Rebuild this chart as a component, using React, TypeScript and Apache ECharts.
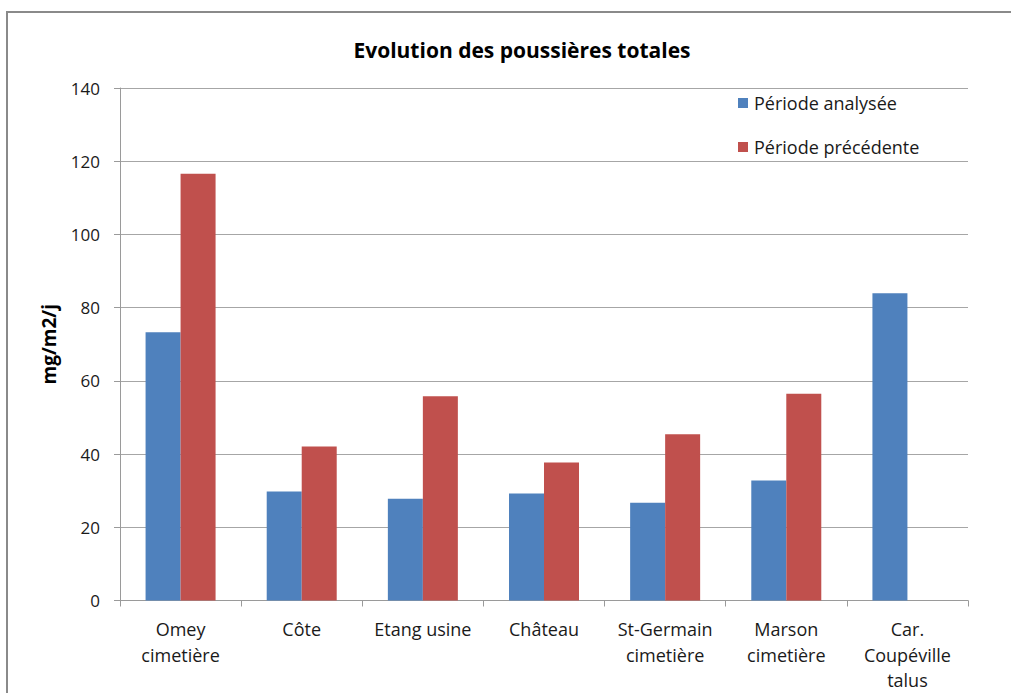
import React, { useEffect, useRef } from "react";
import * as echarts from "echarts";

const categories = [
  "Omey\ncimetière",
  "Côte",
  "Etang usine",
  "Château",
  "St-Germain\ncimetière",
  "Marson\ncimetière",
  "Car.\nCoupéville\ntalus",
];
const periodeAnalysee = [73.3, 29.8, 27.8, 29.2, 26.7, 32.8, 83.9];
const periodePrecedente: (number | null)[] = [116.6, 42.1, 55.8, 37.7, 45.4, 56.5, null];
const seriesNames = ["Période analysée", "Période précédente"];
const yTicks = { min: 0, max: 140, interval: 20 };

const FONT = "'Open Sans', 'Noto Sans', sans-serif";

export default function App() {
  const ref = useRef<HTMLDivElement>(null);
  useEffect(() => {
    if (!ref.current) return;
    const chart = echarts.init(ref.current, null, { renderer: "svg" });
    chart.setOption({
      animation: false,
      backgroundColor: "#ffffff",
      title: {
        text: "Evolution des poussières totales",
        left: 517,
        textAlign: "center",
        top: 34,
        textStyle: { fontFamily: FONT, fontSize: 21, fontWeight: "bold", color: "#000" },
      },
      graphic: [
        {
          type: "rect",
          shape: { x: 7, y: 12, width: 1020, height: 700 },
          style: { fill: "none", stroke: "#8a8a8a", lineWidth: 2 },
          silent: true,
        },
      ],
      legend: {
        orient: "vertical",
        left: 733,
        top: 89,
        itemWidth: 10,
        itemHeight: 10,
        itemGap: 26,
        icon: "rect",
        data: seriesNames,
        textStyle: { fontFamily: FONT, fontSize: 18, color: "#1a1a1a", padding: [0, 0, 0, 1] },
      },
      grid: { left: 120, right: 43, top: 88, bottom: 92 },
      xAxis: {
        type: "category",
        data: categories,
        axisLine: { show: true, lineStyle: { color: "#9a9a9a", width: 1 } },
        axisTick: { show: true, length: 6, lineStyle: { color: "#9a9a9a" } },
        axisLabel: {
          fontFamily: FONT,
          fontSize: 18,
          color: "#1a1a1a",
          lineHeight: 25.5,
          margin: 16,
          interval: 0,
        },
      },
      yAxis: {
        type: "value",
        min: yTicks.min,
        max: yTicks.max,
        interval: yTicks.interval,
        name: "mg/m2/j",
        nameLocation: "middle",
        nameGap: 62,
        nameTextStyle: { fontFamily: FONT, fontSize: 19, fontWeight: "bold", color: "#000" },
        axisLine: { show: true, lineStyle: { color: "#9a9a9a", width: 1 } },
        axisTick: { show: true, length: 6, inside: false, lineStyle: { color: "#9a9a9a" } },
        axisLabel: { fontFamily: FONT, fontSize: 17, color: "#1a1a1a", margin: 20 },
        splitLine: { show: true, lineStyle: { color: "#a6a6a6", width: 1 } },
      },
      series: [
        {
          name: seriesNames[0],
          type: "bar",
          data: periodeAnalysee,
          barWidth: 35,
          barGap: "0%",
          itemStyle: { color: "#4F81BD" },
        },
        {
          name: seriesNames[1],
          type: "bar",
          data: periodePrecedente,
          barWidth: 35,
          barGap: "0%",
          itemStyle: { color: "#C0504D" },
        },
      ],
    });
    return () => chart.dispose();
  }, []);
  return (
    <div
      ref={ref}
      style={{ position: "absolute", left: 0, top: 0, width: 1011, height: 693 }}
    />
  );
}
